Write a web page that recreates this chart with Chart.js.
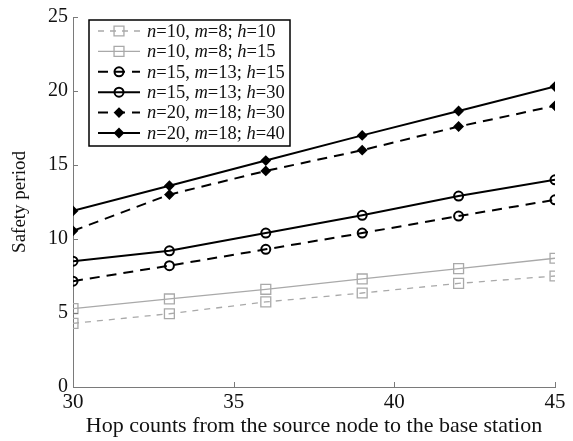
<!DOCTYPE html>
<html>
<head>
<meta charset="utf-8">
<script src="https://cdn.jsdelivr.net/npm/chart.js@4/dist/chart.umd.min.js"></script>
<style>
  html, body { margin: 0; padding: 0; background: #fff; }
  #wrap { width: 573px; height: 441px; }
</style>
</head>
<body>
<div id="wrap"><canvas id="chart"></canvas></div>
<script>
// hop counts on the x axis
const hops = [30, 33, 36, 39, 42, 45];

// safety period per configuration
const n10m8h10 = [4.3, 4.95, 5.75, 6.35, 7.0, 7.5];
const n10m8h15 = [5.3, 5.95, 6.6, 7.3, 8.0, 8.7];
const n15m13h15 = [7.15, 8.2, 9.3, 10.4, 11.55, 12.65];
const n15m13h30 = [8.5, 9.2, 10.4, 11.6, 12.9, 14.0];
const n20m18h30 = [10.55, 13.0, 14.6, 16.0, 17.6, 19.0];
const n20m18h40 = [11.9, 13.6, 15.3, 17.0, 18.65, 20.3];

// legend parameters
const nVals = [10, 10, 15, 15, 20, 20];
const mVals = [8, 8, 13, 13, 18, 18];
const hVals = [10, 15, 15, 30, 30, 40];

const xTicks = [30, 35, 40, 45];
const yTicks = [0, 5, 10, 15, 20, 25];

const SERIF = "'Liberation Serif', 'Times New Roman', serif";
const GRAY = "#a9a9a9";
const AXIS = "#7a7a7a";

function series(data, color, width, dash, style, radius, fill) {
    return {
        data: hops.map((h, i) => ({ x: h, y: data[i] })),
        borderColor: color,
        borderWidth: width,
        borderDash: dash,
        pointStyle: style,
        pointRadius: radius,
        pointBorderColor: color,
        pointBackgroundColor: fill,
        pointBorderWidth: width,
        tension: 0,
        fill: false,
    };
}

const datasets = [
    series(n10m8h10, GRAY, 1.3, [6, 6], "rect", 7, "rgba(0,0,0,0)"),
    series(n10m8h15, GRAY, 1.3, [], "rect", 7, "rgba(0,0,0,0)"),
    series(n15m13h15, "#000", 2, [10, 7], "circle", 4.5, "rgba(0,0,0,0)"),
    series(n15m13h30, "#000", 2, [], "circle", 4.5, "rgba(0,0,0,0)"),
    series(n20m18h30, "#000", 2, [10, 7], "rectRot", 4, "#000"),
    series(n20m18h40, "#000", 2, [], "rectRot", 4, "#000"),
];

// ticks drawn inside the plot, like the original figure
const innerTicks = {
    id: "innerTicks",
    afterDatasetsDraw(chart) {
        const { ctx, chartArea, scales } = chart;
        ctx.save();
        ctx.strokeStyle = AXIS;
        ctx.lineWidth = 1;
        ctx.beginPath();
        yTicks.slice(1).forEach((v) => {
            const y = Math.round(scales.y.getPixelForValue(v)) + 0.5;
            ctx.moveTo(chartArea.left, y);
            ctx.lineTo(chartArea.left + 5, y);
        });
        xTicks.slice(1).forEach((v) => {
            const x = Math.round(scales.x.getPixelForValue(v)) + 0.5;
            ctx.moveTo(x, chartArea.bottom);
            ctx.lineTo(x, chartArea.bottom - 5);
        });
        ctx.stroke();
        ctx.restore();
    },
};

// boxed legend with italic parameter names
const boxLegend = {
    id: "boxLegend",
    afterDatasetsDraw(chart) {
        const ctx = chart.ctx;
        const box = { left: 89, top: 20, right: 290, bottom: 146 };
        ctx.save();
        ctx.fillStyle = "#fff";
        ctx.fillRect(box.left, box.top, box.right - box.left, box.bottom - box.top);
        ctx.strokeStyle = "#000";
        ctx.lineWidth = 1.5;
        ctx.strokeRect(box.left, box.top, box.right - box.left, box.bottom - box.top);

        datasets.forEach((ds, i) => {
            const y = 31 + i * 20.4;
            ctx.save();
            ctx.strokeStyle = ds.borderColor;
            ctx.lineWidth = ds.borderWidth;
            ctx.setLineDash(ds.borderDash);
            ctx.beginPath();
            ctx.moveTo(98, y);
            ctx.lineTo(140, y);
            ctx.stroke();
            ctx.setLineDash([]);
            ctx.fillStyle = ds.pointBackgroundColor;
            Chart.helpers.drawPoint(ctx, {
                pointStyle: ds.pointStyle,
                radius: ds.pointRadius,
                borderWidth: ds.pointBorderWidth,
                rotation: 0,
            }, 119, y);
            ctx.restore();

            const parts = [
                ["n", true], ["=" + nVals[i] + ", ", false],
                ["m", true], ["=" + mVals[i] + "; ", false],
                ["h", true], ["=" + hVals[i], false],
            ];
            let x = 147;
            ctx.fillStyle = "#111";
            ctx.textBaseline = "middle";
            parts.forEach(([t, it]) => {
                ctx.font = (it ? "italic " : "") + "18.5px " + SERIF;
                ctx.fillText(t, x, y + 1);
                x += ctx.measureText(t).width;
            });
        });
        ctx.restore();
    },
};

new Chart(document.getElementById("chart"), {
    type: "line",
    data: { datasets },
    options: {
        responsive: true,
        maintainAspectRatio: false,
        animation: false,
        events: [],
        layout: { padding: { top: 13, right: 18, left: 0, bottom: 0 } },
        plugins: { legend: { display: false }, tooltip: { enabled: false } },
        scales: {
            x: {
                type: "linear",
                min: 30,
                max: 45,
                afterFit: (s) => { s.height = 54; },
                afterBuildTicks: (s) => { s.ticks = xTicks.map((v) => ({ value: v })); },
                grid: { display: false, drawTicks: false },
                border: { display: true, color: AXIS, width: 1 },
                ticks: { color: "#111", padding: 3, maxRotation: 0, font: { family: SERIF, size: 21 } },
                title: {
                    display: true,
                    text: "Hop counts from the source node to the base station",
                    color: "#111",
                    font: { family: SERIF, size: 22 },
                    padding: { top: 0, bottom: 2 },
                },
            },
            y: {
                min: 0,
                max: 25,
                afterFit: (s) => { s.width = 73; },
                afterBuildTicks: (s) => { s.ticks = yTicks.map((v) => ({ value: v })); },
                grid: { display: false, drawTicks: false },
                border: { display: true, color: AXIS, width: 1 },
                ticks: { color: "#111", padding: 5, font: { family: SERIF, size: 20 } },
                title: {
                    display: true,
                    text: "Safety period",
                    color: "#111",
                    font: { family: SERIF, size: 19 },
                    padding: { top: 9, bottom: 0 },
                },
            },
        },
    },
    plugins: [innerTicks, boxLegend],
});
</script>
</body>
</html>
